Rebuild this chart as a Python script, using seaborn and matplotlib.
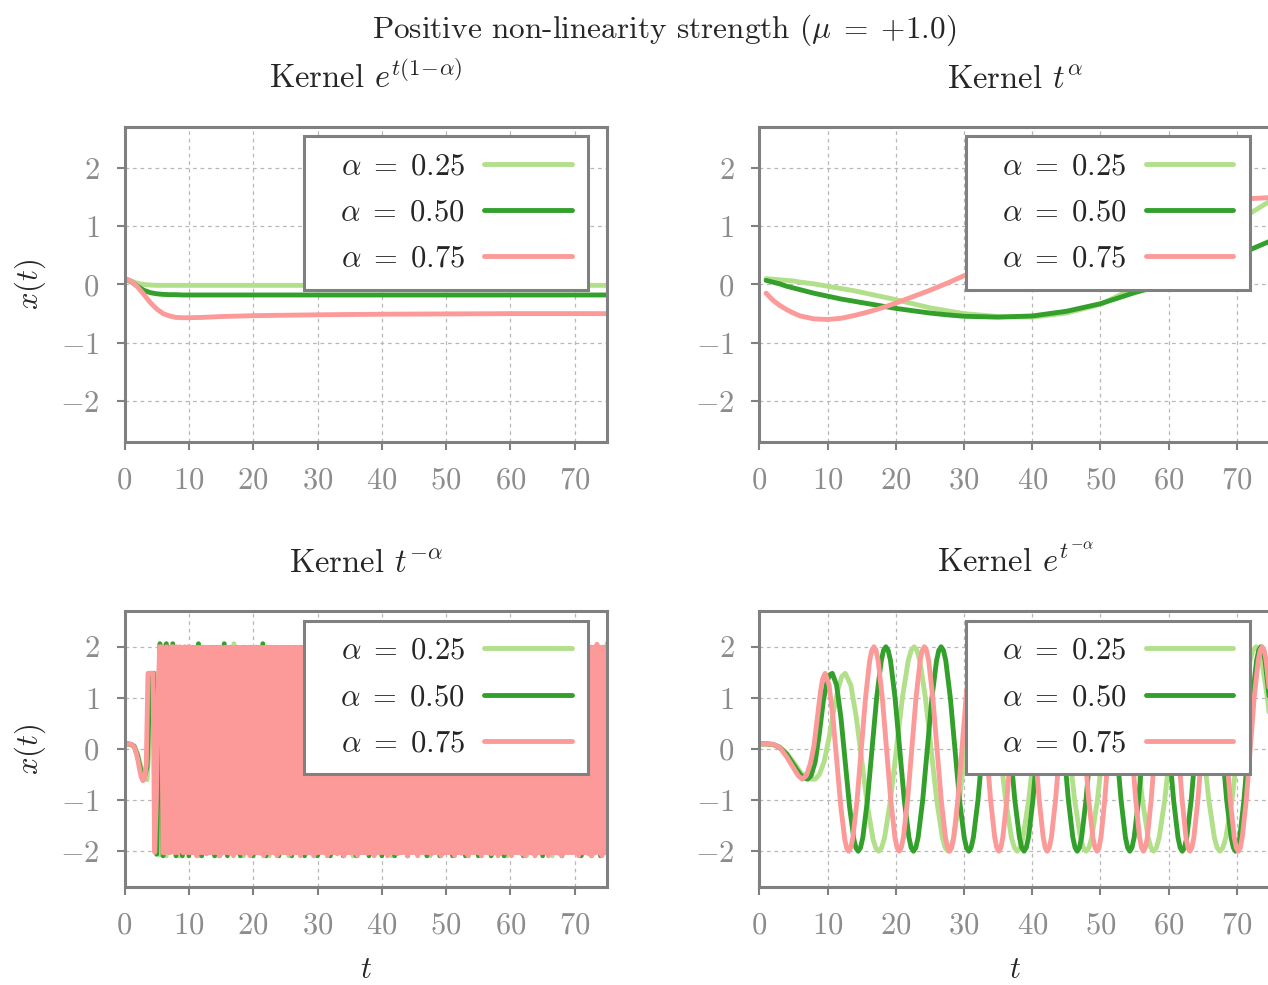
import numpy as np
import pandas as pd
import matplotlib
matplotlib.use("Agg")
import matplotlib.pyplot as plt
import seaborn as sns

# ---------------- data ----------------
labels = [r"$\;\;\,\alpha\;=\;0.25$", r"$\;\;\,\alpha\;=\;0.50$", r"$\;\;\,\alpha\;=\;0.75$"]
colors = ["#b2df8a", "#33a02c", "#fb9a99"]
xticks = [0, 10, 20, 30, 40, 50, 60, 70]
yticks = [-2, -1, 0, 1, 2]
suptitle = r"Positive non-linearity strength ($\mu\;=\;{+}1.0$)"
titles = [r"Kernel $e^{t(1\!-\!\alpha)}$", r"Kernel $t^{\alpha}$",
          r"Kernel $t^{-\alpha}$", r"Kernel $e^{t^{-\alpha}}$"]

# top-left: kernel e^{t(1-alpha)}
tl_t = [0, 1, 2, 3, 4, 5, 6, 7, 8, 9, 10, 12, 15, 20, 30, 40, 50, 60, 75]
tl_025 = [0.10, 0.06, 0.02, 0.00, -0.01, -0.015, -0.015, -0.015, -0.015, -0.015,
          -0.015, -0.015, -0.015, -0.015, -0.015, -0.015, -0.015, -0.015, -0.015]
tl_050 = [0.10, 0.05, -0.03, -0.10, -0.14, -0.16, -0.17, -0.175, -0.175, -0.18,
          -0.18, -0.18, -0.18, -0.18, -0.18, -0.18, -0.18, -0.18, -0.18]
tl_075 = [0.10, 0.06, -0.04, -0.17, -0.31, -0.42, -0.50, -0.54, -0.565, -0.57,
          -0.57, -0.565, -0.55, -0.535, -0.52, -0.51, -0.505, -0.50, -0.50]

# top-right: kernel t^alpha
tr_t = [1, 2, 3, 4, 5, 6, 8, 10, 12, 14, 16, 18, 20, 22.5, 25, 27.5, 30,
        35, 40, 45, 50, 55, 60, 65, 70, 75]
tr_025 = [0.10, 0.09, 0.08, 0.07, 0.06, 0.04, 0.01, -0.03, -0.07, -0.11, -0.16,
          -0.21, -0.26, -0.33, -0.40, -0.45, -0.50, -0.55, -0.56, -0.49, -0.34,
          -0.06, 0.28, 0.67, 1.08, 1.44]
tr_050 = [0.07, 0.04, 0.01, -0.03, -0.06, -0.09, -0.15, -0.20, -0.25, -0.29, -0.33,
          -0.37, -0.41, -0.45, -0.49, -0.52, -0.545, -0.56, -0.54, -0.46, -0.33,
          -0.14, 0.02, 0.24, 0.50, 0.75]
tr_075 = [-0.15, -0.27, -0.36, -0.43, -0.49, -0.54, -0.59, -0.60, -0.58, -0.53,
          -0.47, -0.40, -0.32, -0.21, -0.10, 0.02, 0.15, 0.40, 0.65, 0.87, 1.05,
          1.20, 1.32, 1.41, 1.46, 1.49]

# bottom-left: kernel t^{-alpha}  (samples every 0.5 / 0.25 time units, 0..75)
bl_025 = [0.10, 0.10, 0.09, 0.06, -0.08, -0.33, -0.55, -0.60, 0.40, 1.48, 1.48,
          -2.07, 2.02, -2.09, 1.99, -2.02, 1.99, -2.09, 1.99, -2.02, 1.99,
          -2.02, 1.99, -2.09, 1.99, -2.02, 1.99, -2.02, 1.99, -2.09, 1.99,
          -2.02, 1.99, -2.02, 2.06, -2.02, 1.99, -2.09, 1.99, -2.02, 1.99,
          -2.02, 1.99, -2.02, 1.99, -2.09, 1.99, -2.02, 1.99, -2.02, 1.99,
          -2.09, 1.99, -2.02, 1.99, -2.02, 1.99, -2.02, 1.99, -2.09, 1.99,
          -2.02, 1.99, -2.02, 1.99, -2.02, 2.06, -2.02, 1.99, -2.02, 1.99,
          -2.09, 1.99, -2.02, 1.99, -2.02, 1.99, -2.02, 1.99, -2.02, 1.99,
          -2.02, 1.99, -2.09, 1.99, -2.02, 1.99, -2.02, 1.99, -2.02, 1.99,
          -2.02, 1.99, -2.02, 1.99, -2.09, 1.99, -2.02, 1.99, -2.02, 1.99,
          -2.02, 1.99, -2.02, 1.99, -2.02, 1.99, -2.09, 1.99, -2.02, 1.99,
          -2.09, 1.99, -2.02, 1.99, -2.02, 1.99, -2.02, 1.99, -2.09, 1.99,
          -2.02, 1.99, -2.02, 1.99, -2.09, 1.99, -2.02, 1.99, -2.02, 1.99,
          -2.02, 1.99, -2.09, 1.99, -2.02, 1.99, -2.02, 1.99, -2.02, 1.99,
          -2.02, 2.06, -2.02, 1.99, -2.09, 1.99, -2.02, 1.99, -2.02, 2.06]
bl_050 = [0.10, 0.10, 0.09, 0.05, -0.12, -0.40, -0.58, -0.35, 1.48, 1.48,
          -2.06, 2.06, -2.09, 2.06, -2.02, 2.06, -2.09, 1.99, -2.09, 1.99,
          -2.09, 1.99, -2.02, 2.06, -2.09, 1.99, -2.02, 1.99, -2.09, 1.99,
          -2.02, 2.06, -2.09, 1.99, -2.02, 1.99, -2.09, 1.99, -2.02, 1.99,
          -2.09, 1.99, -2.02, 2.06, -2.09, 1.99, -2.02, 1.99, -2.09, 1.99,
          -2.02, 1.99, -2.09, 1.99, -2.02, 1.99, -2.09, 1.99, -2.02, 1.99,
          -2.09, 1.99, -2.02, 1.99, -2.09, 2.06, -2.02, 1.99, -2.09, 1.99,
          -2.02, 1.99, -2.09, 1.99, -2.02, 1.99, -2.09, 1.99, -2.02, 1.99,
          -2.09, 1.99, -2.02, 1.99, -2.09, 1.99, -2.02, 1.99, -2.09, 1.99,
          -2.02, 1.99, -2.02, 1.99, -2.09, 1.99, -2.02, 1.99, -2.09, 1.99,
          -2.02, 1.99, -2.09, 1.99, -2.02, 1.99, -2.09, 1.99, -2.02, 1.99,
          -2.09, 1.99, -2.02, 1.99, -2.09, 1.99, -2.02, 1.99, -2.09, 1.99,
          -2.02, 1.99, -2.02, 1.99, -2.09, 1.99, -2.02, 1.99, -2.02, 1.99,
          -2.09, 1.99, -2.02, 1.99, -2.02, 1.99, -2.09, 1.99, -2.02, 1.99,
          -2.02, 1.99, -2.09, 1.99, -2.02, 1.99, -2.02, 1.99, -2.09, 1.99,
          -2.02]
bl_075 = [0.10, 0.10, 0.10, 0.10, 0.09, 0.07, 0.02, -0.08, -0.22, -0.40,
          -0.55, -0.62, -0.58, -0.30, 1.48, 1.48, 1.48, 1.48, -2.02, -1.00,
          1.00, 2.00, 2.00, -2.03, -2.03, 2.00, 0.50, -2.03, 2.00, 2.00,
          -2.03, 2.00, -2.03, 2.00, 1.96, -2.03, 2.00, -2.03, 2.00, -2.03,
          1.99, -2.03, 1.99, -2.09, 1.99, -2.03, 1.99, -2.03, 1.99, -2.05, 1.99, -2.03,
          1.99, -2.03, 1.99, -2.03, 1.99, -2.09, 1.99, -2.03, 1.99, -2.03, 1.99, -2.04,
          1.99, -2.09, 1.99, -2.03, 1.99, -2.03, 1.99, -2.05, 1.99, -2.03, 1.99, -2.09,
          1.99, -2.03, 1.99, -2.03, 1.99, -2.04, 1.99, -2.09, 1.99, -2.03, 1.99, -2.03,
          1.99, -2.03, 1.99, -2.09, 1.99, -2.03, 1.99, -2.03, 1.99, -2.03, 1.99, -2.06,
          1.99, -2.03, 1.99, -2.03, 1.99, -2.09, 1.99, -2.03, 1.99, -2.04, 1.99, -2.03,
          1.99, -2.09, 1.99, -2.03, 1.99, -2.03, 1.99, -2.03, 1.99, -2.09, 1.99, -2.03,
          1.99, -2.03, 1.99, -2.05, 1.99, -2.03, 1.99, -2.09, 1.99, -2.03, 1.99, -2.03,
          1.99, -2.03, 1.99, -2.09, 1.99, -2.03, 1.99, -2.03, 1.99, -2.04, 1.99, -2.03,
          1.99, -2.09, 1.99, -2.03, 1.99, -2.03, 1.99, -2.03, 1.99, -2.09, 1.99, -2.03,
          1.99, -2.03, 1.99, -2.05, 1.99, -2.03, 1.99, -2.03, 1.99, -2.09, 1.99, -2.03,
          1.99, -2.03, 1.99, -2.09, 1.99, -2.03, 1.99, -2.03, 1.99, -2.03, 1.99, -2.06,
          1.99, -2.03, 1.99, -2.03, 1.99, -2.09, 1.99, -2.03, 1.99, -2.03, 1.99, -2.03,
          1.99, -2.09, 1.99, -2.03, 1.99, -2.04, 1.99, -2.03, 1.99, -2.09, 1.99, -2.03,
          1.99, -2.03, 1.99, -2.03, 1.99, -2.09, 1.99, -2.03, 1.99, -2.03, 1.99, -2.05,
          1.99, -2.03, 1.99, -2.09, 1.99, -2.03, 1.99, -2.03, 1.99, -2.03, 1.99, -2.09,
          1.99, -2.03, 1.99, -2.03, 1.99, -2.05, 1.99, -2.09, 1.99, -2.03, 1.99, -2.03,
          1.99, -2.09, 1.99, -2.03, 1.99, -2.03, 1.99, -2.03, 1.99, -2.09, 1.99, -2.03,
          1.99, -2.03, 1.99, -2.04, 1.99, -2.09, 1.99, -2.03, 1.99, -2.03, 1.99, -2.03,
          1.99, -2.03, 1.99, -2.09, 1.99, -2.03, 1.99, -2.03, 1.99, -2.05, 1.99, -2.09,
          1.99, -2.03, 2.05, -2.03, 1.99, -2.09, 1.99, -2.03, 1.99]

# bottom-right: kernel e^{t^{-alpha}}
br_t_025 = [0, 1, 2, 3, 4, 5, 6, 7, 7.6, 8.2, 8.8, 9.5, 10.2, 10.9, 11.6, 12.1, 12.6,
            13.42, 14.23, 15.05, 15.87, 16.68, 17.09, 17.5,
            17.93, 18.37, 19.23, 20.1, 20.97, 21.83, 22.27, 22.7,
            23.11, 23.53, 24.35, 25.18, 26.0, 26.83, 27.24, 27.65,
            28.07, 28.49, 29.33, 30.18, 31.02, 31.86, 32.28, 32.7,
            33.13, 33.55, 34.4, 35.25, 36.1, 36.95, 37.38, 37.8,
            38.22, 38.64, 39.48, 40.33, 41.17, 42.01, 42.43, 42.85,
            43.27, 43.69, 44.53, 45.38, 46.22, 47.06, 47.48, 47.9,
            48.31, 48.73, 49.55, 50.38, 51.2, 52.03, 52.44, 52.85,
            53.26, 53.68, 54.5, 55.33, 56.15, 56.98, 57.39, 57.8,
            58.2, 58.61, 59.42, 60.23, 61.03, 61.84, 62.25, 62.65,
            63.05, 63.46, 64.27, 65.08, 65.88, 66.69, 67.1, 67.5,
            67.94, 68.38, 69.27, 70.15, 71.03, 71.92, 72.36, 72.8,
            73.24, 73.63, 74.47, 75.3]
br_025 = [0.10, 0.10, 0.09, 0.04, -0.08, -0.25, -0.45, -0.57, -0.59, -0.59, -0.50,
          -0.25, 0.20, 0.75, 1.20, 1.42, 1.48,
          1.25, 0.61, -0.26, -1.13, -1.77, -1.94, -2.00,
          -1.93, -1.73, -1.00, 0.00, 1.00, 1.73, 1.93, 2.00,
          1.93, 1.73, 1.00, 0.00, -1.00, -1.73, -1.93, -2.00,
          -1.93, -1.73, -1.00, 0.00, 1.00, 1.73, 1.93, 2.00,
          1.93, 1.73, 1.00, 0.00, -1.00, -1.73, -1.93, -2.00,
          -1.93, -1.73, -1.00, 0.00, 1.00, 1.73, 1.93, 2.00,
          1.93, 1.73, 1.00, 0.00, -1.00, -1.73, -1.93, -2.00,
          -1.93, -1.73, -1.00, 0.00, 1.00, 1.73, 1.93, 2.00,
          1.93, 1.73, 1.00, 0.00, -1.00, -1.73, -1.93, -2.00,
          -1.93, -1.73, -1.00, 0.00, 1.00, 1.73, 1.93, 2.00,
          1.93, 1.73, 1.00, 0.00, -1.00, -1.73, -1.93, -2.00,
          -1.93, -1.73, -1.00, 0.00, 1.00, 1.73, 1.93, 2.00,
          1.93, 1.73, 1.00, 0.00]
br_t_050 = [0, 1, 2, 3, 4, 5, 6, 6.6, 7.1, 7.6, 8.2, 8.8, 9.4, 9.9, 10.3, 10.7,
            11.33, 11.97, 12.6, 13.23, 13.87, 14.18, 14.5,
            14.84, 15.18, 15.85, 16.53, 17.2, 17.88, 18.21, 18.55,
            18.89, 19.23, 19.9, 20.58, 21.25, 21.93, 22.26, 22.6,
            22.94, 23.28, 23.95, 24.63, 25.3, 25.98, 26.31, 26.65,
            26.99, 27.33, 28.0, 28.68, 29.35, 30.03, 30.36, 30.7,
            31.04, 31.38, 32.05, 32.73, 33.4, 34.08, 34.41, 34.75,
            35.09, 35.43, 36.1, 36.78, 37.45, 38.13, 38.46, 38.8,
            39.13, 39.45, 40.1, 40.75, 41.4, 42.05, 42.38, 42.7,
            43.03, 43.35, 44.0, 44.65, 45.3, 45.95, 46.28, 46.6,
            46.92, 47.24, 47.88, 48.53, 49.17, 49.81, 50.13, 50.45,
            50.77, 51.09, 51.73, 52.38, 53.02, 53.66, 53.98, 54.3,
            54.62, 54.94, 55.58, 56.23, 56.87, 57.51, 57.83, 58.15,
            58.47, 58.79, 59.43, 60.08, 60.72, 61.36, 61.68, 62.0,
            62.33, 62.65, 63.3, 63.95, 64.6, 65.25, 65.58, 65.9,
            66.23, 66.55, 67.2, 67.85, 68.5, 69.15, 69.48, 69.8,
            70.11, 70.42, 71.03, 71.65, 72.27, 72.88, 73.19, 73.5,
            73.81, 74.12, 74.73, 75.35]
br_050 = [0.10, 0.10, 0.09, 0.03, -0.10, -0.30, -0.50, -0.57, -0.59, -0.52, -0.25,
          0.30, 0.95, 1.30, 1.45, 1.48,
          1.25, 0.61, -0.26, -1.13, -1.77, -1.94, -2.00,
          -1.93, -1.73, -1.00, 0.00, 1.00, 1.73, 1.93, 2.00,
          1.93, 1.73, 1.00, 0.00, -1.00, -1.73, -1.93, -2.00,
          -1.93, -1.73, -1.00, 0.00, 1.00, 1.73, 1.93, 2.00,
          1.93, 1.73, 1.00, 0.00, -1.00, -1.73, -1.93, -2.00,
          -1.93, -1.73, -1.00, 0.00, 1.00, 1.73, 1.93, 2.00,
          1.93, 1.73, 1.00, 0.00, -1.00, -1.73, -1.93, -2.00,
          -1.93, -1.73, -1.00, 0.00, 1.00, 1.73, 1.93, 2.00,
          1.93, 1.73, 1.00, 0.00, -1.00, -1.73, -1.93, -2.00,
          -1.93, -1.73, -1.00, 0.00, 1.00, 1.73, 1.93, 2.00,
          1.93, 1.73, 1.00, 0.00, -1.00, -1.73, -1.93, -2.00,
          -1.93, -1.73, -1.00, 0.00, 1.00, 1.73, 1.93, 2.00,
          1.93, 1.73, 1.00, 0.00, -1.00, -1.73, -1.93, -2.00,
          -1.93, -1.73, -1.00, 0.00, 1.00, 1.73, 1.93, 2.00,
          1.93, 1.73, 1.00, 0.00, -1.00, -1.73, -1.93, -2.00,
          -1.93, -1.73, -1.00, 0.00, 1.00, 1.73, 1.93, 2.00,
          1.93, 1.73, 1.00, 0.00]
br_t_075 = [0, 1, 2, 3, 4, 5, 5.7, 6.3, 6.9, 7.5, 8.0, 8.5, 9.0, 9.3, 9.65,
            10.23, 10.8, 11.38, 11.95, 12.53, 12.81, 13.1,
            13.41, 13.72, 14.33, 14.95, 15.57, 16.18, 16.49, 16.8,
            17.11, 17.42, 18.03, 18.65, 19.27, 19.88, 20.19, 20.5,
            20.81, 21.12, 21.73, 22.35, 22.97, 23.58, 23.89, 24.2,
            24.51, 24.82, 25.43, 26.05, 26.67, 27.28, 27.59, 27.9,
            28.2, 28.5, 29.1, 29.7, 30.3, 30.9, 31.2, 31.5,
            31.8, 32.1, 32.7, 33.3, 33.9, 34.5, 34.8, 35.1,
            35.4, 35.69, 36.28, 36.88, 37.47, 38.06, 38.35, 38.65,
            38.95, 39.24, 39.83, 40.43, 41.02, 41.61, 41.9, 42.2,
            42.5, 42.81, 43.42, 44.03, 44.63, 45.24, 45.55, 45.85,
            46.15, 46.46, 47.07, 47.68, 48.28, 48.89, 49.2, 49.5,
            49.78, 50.07, 50.63, 51.2, 51.77, 52.33, 52.62, 52.9,
            53.18, 53.47, 54.03, 54.6, 55.17, 55.73, 56.02, 56.3,
            56.58, 56.87, 57.43, 58.0, 58.57, 59.13, 59.42, 59.7,
            59.98, 60.27, 60.83, 61.4, 61.97, 62.53, 62.82, 63.1,
            63.4, 63.69, 64.28, 64.88, 65.47, 66.06, 66.35, 66.65,
            66.95, 67.24, 67.83, 68.43, 69.02, 69.61, 69.9, 70.2,
            70.49, 70.78, 71.37, 71.95, 72.53, 73.12, 73.41, 73.7,
            73.99, 74.28, 74.87, 75.45]
br_075 = [0.10, 0.10, 0.09, 0.03, -0.15, -0.37, -0.52, -0.59, -0.52, -0.28,
          0.05, 0.60, 1.15, 1.38, 1.48,
          1.25, 0.61, -0.26, -1.13, -1.77, -1.94, -2.00,
          -1.93, -1.73, -1.00, 0.00, 1.00, 1.73, 1.93, 2.00,
          1.93, 1.73, 1.00, 0.00, -1.00, -1.73, -1.93, -2.00,
          -1.93, -1.73, -1.00, 0.00, 1.00, 1.73, 1.93, 2.00,
          1.93, 1.73, 1.00, 0.00, -1.00, -1.73, -1.93, -2.00,
          -1.93, -1.73, -1.00, 0.00, 1.00, 1.73, 1.93, 2.00,
          1.93, 1.73, 1.00, 0.00, -1.00, -1.73, -1.93, -2.00,
          -1.93, -1.73, -1.00, 0.00, 1.00, 1.73, 1.93, 2.00,
          1.93, 1.73, 1.00, 0.00, -1.00, -1.73, -1.93, -2.00,
          -1.93, -1.73, -1.00, 0.00, 1.00, 1.73, 1.93, 2.00,
          1.93, 1.73, 1.00, 0.00, -1.00, -1.73, -1.93, -2.00,
          -1.93, -1.73, -1.00, 0.00, 1.00, 1.73, 1.93, 2.00,
          1.93, 1.73, 1.00, 0.00, -1.00, -1.73, -1.93, -2.00,
          -1.93, -1.73, -1.00, 0.00, 1.00, 1.73, 1.93, 2.00,
          1.93, 1.73, 1.00, 0.00, -1.00, -1.73, -1.93, -2.00,
          -1.93, -1.73, -1.00, 0.00, 1.00, 1.73, 1.93, 2.00,
          1.93, 1.73, 1.00, 0.00, -1.00, -1.73, -1.93, -2.00,
          -1.93, -1.73, -1.00, 0.00, 1.00, 1.73, 1.93, 2.00,
          1.93, 1.73, 1.00, 0.00]

# ---------------- style ----------------
sns.set_theme(style="white")
plt.rcParams.update({
    "font.family": "serif",
    "font.serif": ["cmr10"],
    "mathtext.fontset": "cm",
    "axes.formatter.use_mathtext": True,
    "axes.unicode_minus": True,
})

GRAY = "#808080"
TICKGRAY = "#8c8c8c"
FS = 22
TFS = 23.5
LW = 3.5


def frame(series):
    parts = []
    for lab, (t, x) in zip(labels, series):
        parts.append(pd.DataFrame({"t": t, "x": x, "series": lab}))
    return pd.concat(parts, ignore_index=True)


t_fine = np.linspace(0, 75, len(bl_075))
t_med = np.linspace(0, 75, len(bl_050))

panels = [
    (frame([(tl_t, tl_025), (tl_t, tl_050), (tl_t, tl_075)]), [0.0982, 0.5513, 0.3805, 0.3198], True, False, (0.9613, 0.9714)),
    (frame([(tr_t, tr_025), (tr_t, tr_050), (tr_t, tr_075)]), [0.5988, 0.5513, 0.4036, 0.3198], False, False, (0.959, 0.9714)),
    (frame([(t_med, bl_025), (t_med, bl_050), (t_fine, bl_075)]), [0.0982, 0.0995, 0.3805, 0.2802], True, True, (0.9613, 0.965)),
    (frame([(br_t_025, br_025), (br_t_050, br_050), (br_t_075, br_075)]), [0.5988, 0.0995, 0.4036, 0.2802], False, True, (0.959, 0.965)),
]

fig = plt.figure(figsize=(12.68, 9.85), dpi=100)

for (df, pos, show_y, show_x, anchor), title in zip(panels, titles):
    ax = fig.add_axes(pos)
    sns.lineplot(data=df, x="t", y="x", hue="series", hue_order=labels,
                 palette=colors, estimator=None, sort=False, linewidth=LW,
                 legend=False, ax=ax)
    ax.set_xlim(0, 75)
    ax.set_ylim(-2.7, 2.7)
    ax.set_xticks(xticks)
    ax.set_yticks(yticks)
    ax.set_axisbelow(True)
    ax.grid(True, color="#b8b8b8", linestyle=(0, (3, 3)), linewidth=0.9)
    for sp in ax.spines.values():
        sp.set_visible(True)
        sp.set_color(GRAY)
        sp.set_linewidth(2.2)
    ax.tick_params(axis="both", which="major", direction="out", length=6,
                   width=1.5, color=GRAY, labelcolor=TICKGRAY, labelsize=FS,
                   left=True, bottom=True, pad=12)
    ax.set_title(title, fontsize=TFS, pad=28)
    ax.set_ylabel(r"$x(t)$" if show_y else "", fontsize=FS, labelpad=9)
    ax.set_xlabel(r"$t$" if show_x else "", fontsize=FS, labelpad=12)
    leg = ax.legend(handles=ax.get_lines()[:3], labels=labels,
                    loc="upper right", bbox_to_anchor=anchor, borderaxespad=0,
                    markerfirst=False, fancybox=False, framealpha=1,
                    fontsize=FS, handlelength=2.85, handletextpad=0.65,
                    borderpad=0.55, labelspacing=0.62)
    leg.get_frame().set_edgecolor(GRAY)
    leg.get_frame().set_linewidth(2.2)

fig.text(0.5237, 0.9614, suptitle, ha="center", va="baseline", fontsize=22.5)

fig.savefig("out.png", dpi=100)
